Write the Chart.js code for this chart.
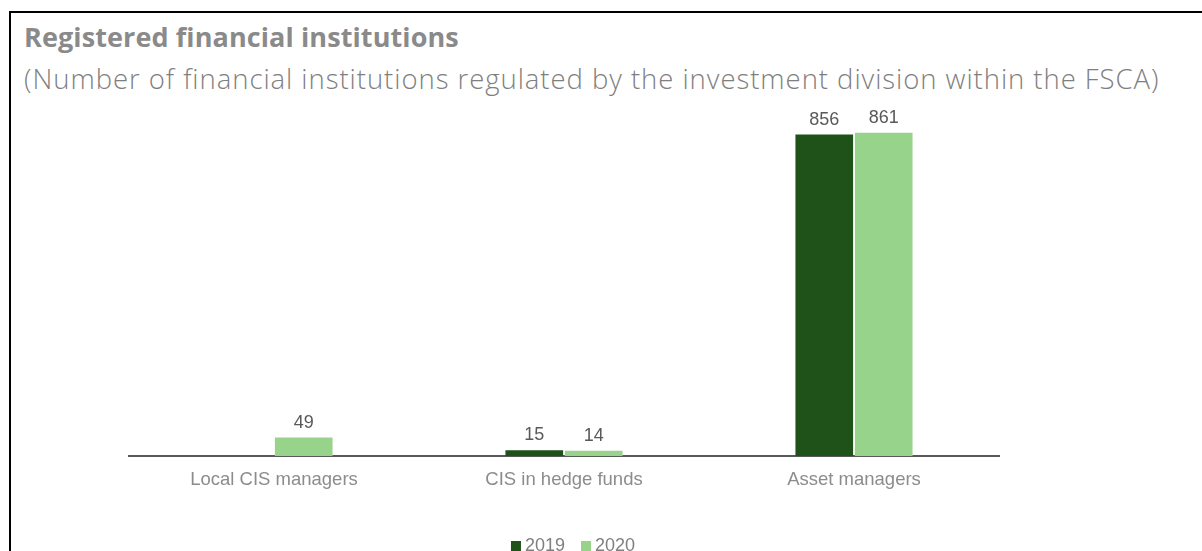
<!DOCTYPE html>
<html>
<head>
<meta charset="utf-8">
<script src="https://cdn.jsdelivr.net/npm/chart.js@4"></script>
<style>
  html, body { margin: 0; padding: 0; background: #fff; overflow: hidden; }
  #wrap { position: relative; width: 1202px; height: 551px; }
  #frame { position: absolute; left: 9px; top: 11px; right: -4px; bottom: -4px;
           border-top: 2px solid #000; border-left: 2px solid #000; }
  .head { position: absolute; left: 24px; white-space: nowrap; font-family: "Open Sans", sans-serif; }
  #title { top: 18px; font-size: 27px; font-weight: 700; color: #8a8a8a; letter-spacing: 0.1px; }
  #subtitle { top: 60px; font-size: 27.5px; font-weight: 300; color: #7f7f7f; letter-spacing: 0.95px; }
  canvas { position: absolute; left: 0; top: 0; }
</style>
</head>
<body>
<div id="wrap">
  <div id="frame"></div>
  <div class="head" id="title">Registered financial institutions</div>
  <div class="head" id="subtitle">(Number of financial institutions regulated by the investment division within the FSCA)</div>
  <canvas id="chart" width="1202" height="551"></canvas>
</div>
<script>
// categories and yearly counts
const categories = ['Local CIS managers', 'CIS in hedge funds', 'Asset managers'];
const years = ['2019', '2020'];
const values2019 = [null, 15, 856];
const values2020 = [49, 14, 861];
const barColors = ['#1f5218', '#98d38b'];

// numbers above each bar
const valueLabels = {
  id: 'valueLabels',
  afterDatasetsDraw(chart) {
    const ctx = chart.ctx;
    ctx.save();
    ctx.font = '18px "Liberation Sans", Arial, sans-serif';
    ctx.fillStyle = '#595959';
    ctx.textAlign = 'center';
    ctx.textBaseline = 'alphabetic';
    chart.data.datasets.forEach((ds, i) => {
      chart.getDatasetMeta(i).data.forEach((bar, j) => {
        if (ds.data[j] == null) return;
        ctx.fillText(ds.data[j], bar.x, bar.y - 10);
      });
    });
    ctx.restore();
  }
};

// small square legend under the axis
const bottomLegend = {
  id: 'bottomLegend',
  afterDraw(chart) {
    const ctx = chart.ctx;
    const area = chart.chartArea;
    ctx.save();
    ctx.font = '18px "Liberation Sans", Arial, sans-serif';
    ctx.textBaseline = 'middle';
    const box = 10, gapText = 4, gapItem = 16;
    const items = chart.data.datasets.map(ds => ({
      label: ds.label, color: ds.backgroundColor, w: ctx.measureText(ds.label).width
    }));
    const total = items.reduce((s, it) => s + box + gapText + it.w, 0) + gapItem * (items.length - 1);
    let x = (area.left + area.right) / 2 + 9 - total / 2;
    const y = 546;
    items.forEach(it => {
      ctx.fillStyle = it.color;
      ctx.fillRect(x, y - 5, box, box);
      x += box + gapText;
      ctx.fillStyle = '#7f7f7f';
      ctx.fillText(it.label, x, y);
      x += it.w + gapItem;
    });
    ctx.restore();
  }
};

new Chart(document.getElementById('chart'), {
  type: 'bar',
  data: {
    labels: categories,
    datasets: [
      { label: years[0], data: values2019, backgroundColor: barColors[0] },
      { label: years[1], data: values2020, backgroundColor: barColors[1] }
    ]
  },
  options: {
    responsive: false,
    animation: false,
    categoryPercentage: 0.41,
    barPercentage: 0.97,
    layout: { padding: { top: 118, left: 129, right: 203, bottom: 0 } },
    plugins: { legend: { display: false }, tooltip: { enabled: false } },
    scales: {
      x: {
        grid: { display: false, drawTicks: false },
        border: { color: '#595959', width: 2 },
        ticks: {
          color: '#8c8c8c',
          padding: 13,
          font: { family: '"Liberation Sans", Arial, sans-serif', size: 18.5 }
        },
        afterFit(scale) { scale.height = 95; }
      },
      y: { display: false, min: 0, max: 900 }
    }
  },
  plugins: [valueLabels, bottomLegend]
});
</script>
</body>
</html>
